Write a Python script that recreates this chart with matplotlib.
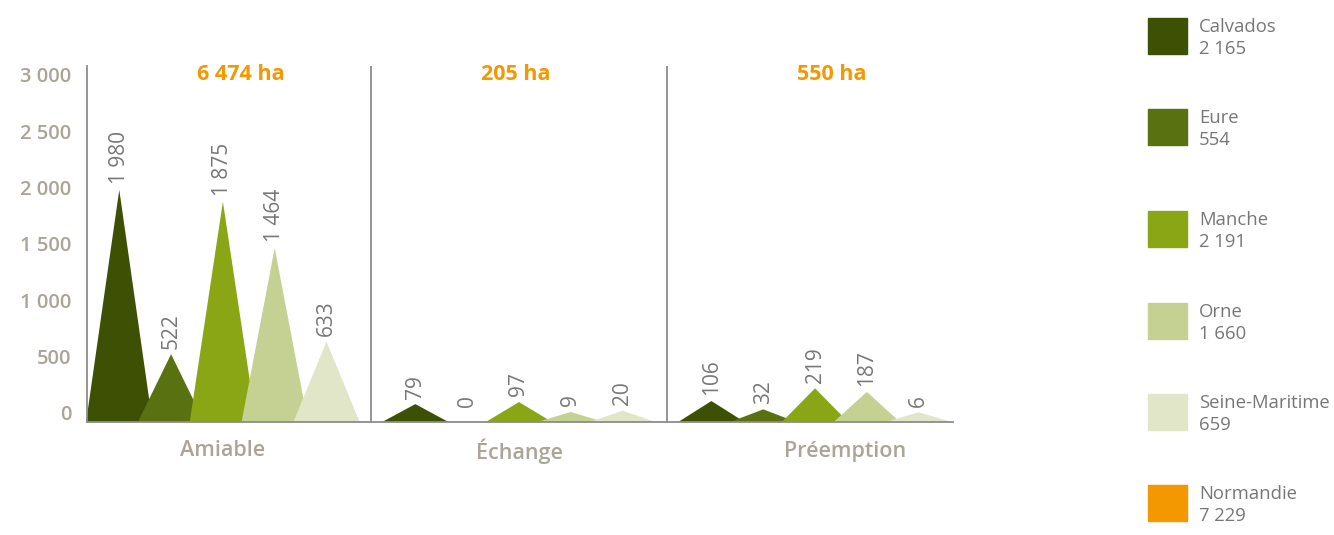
import matplotlib
matplotlib.use("Agg")
import matplotlib.pyplot as plt
from matplotlib.patches import Rectangle
import matplotlib.transforms as mtransforms

plt.rcParams['font.family'] = ['Open Sans', 'DejaVu Sans']

# ---- data ----
categories = ["Amiable", "Échange", "Préemption"]
totals = ["6 474 ha", "205 ha", "550 ha"]
departements = ["Calvados", "Eure", "Manche", "Orne", "Seine-Maritime"]
calvados = [1980, 79, 106]
eure = [522, 0, 32]
manche = [1875, 97, 219]
orne = [1464, 9, 187]
seine_maritime = [633, 20, 6]
series = [calvados, eure, manche, orne, seine_maritime]
legend_names = departements + ["Normandie"]
legend_values = ["2 165", "554", "2 191", "1 660", "659", "7 229"]
yticks = [0, 500, 1000, 1500, 2000, 2500, 3000]

# ---- style ----
colors = ["#3d5004", "#5a7111", "#8ba614", "#c5d192", "#e1e6c9", "#f39800"]
axis_col = "#8c8c8c"
tick_col = "#aaa499"
val_col = "#777777"
orange = "#f39800"

W, H = 1334, 535
fig = plt.figure(figsize=(W / 100, H / 100), dpi=100)
left, right, bottom, top = 87, 953, 422, 66
ax = fig.add_axes([left / W, 1 - bottom / H, (right - left) / W, (bottom - top) / H])

ymin, ymax = -80, 3079
ax.set_xlim(-0.459, 2.466)
ax.set_ylim(ymin, ymax)

offsets = [-0.35, -0.175, 0.0, 0.175, 0.35]
hw = 0.112

for s, (vals, off) in enumerate(zip(series, offsets)):
    for c, v in enumerate(vals):
        x = c + off
        if v > 0:
            ax.fill([x - hw, x, x + hw], [ymin, v, ymin], color=colors[s], lw=0,
                    zorder=2, clip_on=False)
        ax.annotate(f"{v:,}".replace(",", " "), xy=(x, v), xytext=(0, 4),
                    textcoords="offset points", rotation=90, ha="center",
                    va="bottom", color=val_col, fontsize=15)

for sp in ["top", "right"]:
    ax.spines[sp].set_visible(False)
for sp in ["left", "bottom"]:
    ax.spines[sp].set_color(axis_col)
    ax.spines[sp].set_linewidth(1.3)
    ax.spines[sp].set_zorder(3)
for xv in [0.5, 1.5]:
    ax.axvline(xv, color=axis_col, lw=1.3, zorder=1)

ax.set_yticks(yticks)
ax.set_yticklabels([f"{t:,}".replace(",", " ") for t in yticks])
ax.tick_params(axis="y", length=0, pad=11, labelcolor=tick_col, labelsize=14.5)
for lab in ax.get_yticklabels():
    lab.set_fontweight("semibold")
ax.set_xticks([])

label_shift = [0.0, 0.0, 0.1]
below = ax.transAxes + mtransforms.ScaledTranslation(0, -0.29, fig.dpi_scale_trans)
for c, name in enumerate(categories):
    xa = (c + label_shift[c] - (-0.459)) / (2.466 + 0.459)
    ax.text(xa, 0, name, transform=below, ha="center", va="center",
            fontsize=15.5, color=tick_col, fontweight="semibold")

total_shift = [0.06, -0.01, 0.055]
for c, t in enumerate(totals):
    ax.text(c + total_shift[c], 0.975, t, transform=ax.get_xaxis_transform(),
            ha="center", va="center", fontsize=15.5, color=orange, fontweight="bold")

# ---- legend ----
sq_top = [18, 109, 211, 303, 394, 485]
for i, (name, val) in enumerate(zip(legend_names, legend_values)):
    y0 = sq_top[i]
    fig.patches.append(Rectangle((1148 / W, 1 - (y0 + 36) / H), 39 / W, 36 / H,
                                 transform=fig.transFigure, color=colors[i]))
    fig.text(1199 / W, 1 - (y0 + 9) / H, name, ha="left", va="center",
             fontsize=13.3, color=val_col)
    fig.text(1199 / W, 1 - (y0 + 31) / H, val, ha="left", va="center",
             fontsize=13.3, color=val_col)

fig.savefig("out.png", dpi=100)
